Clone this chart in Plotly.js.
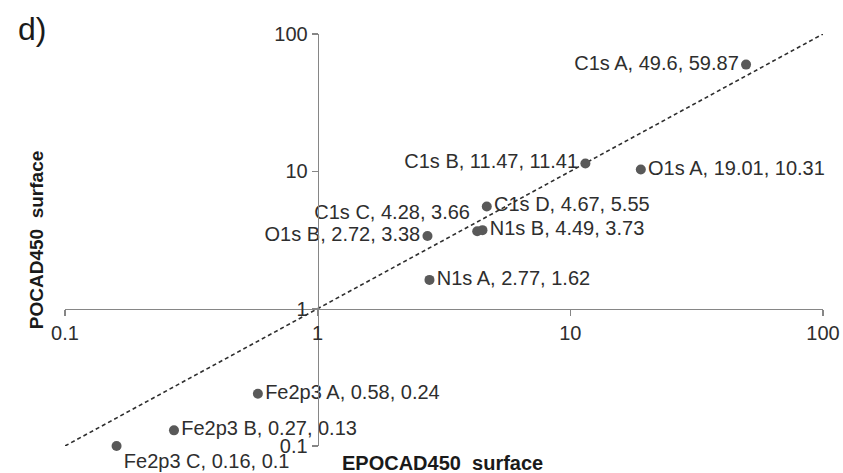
<!DOCTYPE html>
<html>
<head>
<meta charset="utf-8">
<script src="https://cdn.plot.ly/plotly-3.0.1.min.js"></script>
<style>html,body{margin:0;padding:0;background:#fff;}</style>
</head>
<body>
<div id="chart" style="width:843px;height:473px;"></div>
<script>
const names = ["C1s A","C1s B","O1s A","C1s C","O1s B","C1s D","N1s B","N1s A","Fe2p3 A","Fe2p3 B","Fe2p3 C"];
const epocad = [49.6, 11.47, 19.01, 4.28, 2.72, 4.67, 4.49, 2.77, 0.58, 0.27, 0.16];
const pocad  = [59.87, 11.41, 10.31, 3.66, 3.38, 5.55, 3.73, 1.62, 0.24, 0.13, 0.1];
const labelPos = ["middle left","middle left","middle right","top left","middle left","middle right","middle right","middle right","middle right","middle right","bottom right"];
const refLine = [0.1, 100];
const tickVals = [0.1, 1, 10, 100];
const tickText = ["0.1", "1", "10", "100"];

const FONT = "Liberation Sans, Arial, sans-serif";
const labels = names.map((n, i) => n + ", " + epocad[i] + ", " + pocad[i]);

const traces = [
  {
    x: refLine, y: refLine, type: "scatter", mode: "lines",
    line: {color: "#2e2e2e", width: 1.6, dash: "4px,3px"},
    hoverinfo: "skip", showlegend: false
  },
  {
    x: epocad, y: pocad, type: "scatter", mode: "markers+text",
    text: labels, textposition: labelPos,
    textfont: {family: FONT, size: 20, color: "#2e2e2e"},
    marker: {color: "#595959", size: 10},
    showlegend: false, cliponaxis: false
  }
];

const axisCommon = {
  type: "log", range: [-1, 2], anchor: "free", position: 1/3,
  showgrid: false, zeroline: false, showline: true,
  linecolor: "#868686", linewidth: 1.5,
  ticks: "outside", ticklen: 6, tickwidth: 1.5, tickcolor: "#868686",
  tickmode: "array", tickvals: tickVals, ticktext: tickText,
  tickfont: {family: FONT, size: 20, color: "#2e2e2e"},
  fixedrange: true
};

const layout = {
  width: 843, height: 473,
  margin: {l: 65, r: 20, t: 34, b: 27, pad: 0},
  paper_bgcolor: "#ffffff", plot_bgcolor: "#ffffff",
  xaxis: Object.assign({}, axisCommon),
  yaxis: Object.assign({}, axisCommon),
  showlegend: false,
  annotations: [
    {text: "<b>POCAD450  surface</b>", xref: "paper", yref: "paper", x: -0.038, y: 0.5,
     xanchor: "center", yanchor: "middle", textangle: -90, showarrow: false,
     font: {family: FONT, size: 19, color: "#1a1a1a"}},
    {text: "<b>EPOCAD450  surface</b>", xref: "paper", yref: "paper", x: 0.498, y: -0.041,
     xanchor: "center", yanchor: "middle", showarrow: false,
     font: {family: FONT, size: 20, color: "#1a1a1a"}},
    {text: "d)", xref: "paper", yref: "paper", x: -0.0435, y: 1.012,
     xanchor: "center", yanchor: "middle", showarrow: false,
     font: {family: FONT, size: 32, color: "#1a1a1a"}}
  ]
};

Plotly.newPlot("chart", traces, layout, {displayModeBar: false, staticPlot: true});
</script>
</body>
</html>
